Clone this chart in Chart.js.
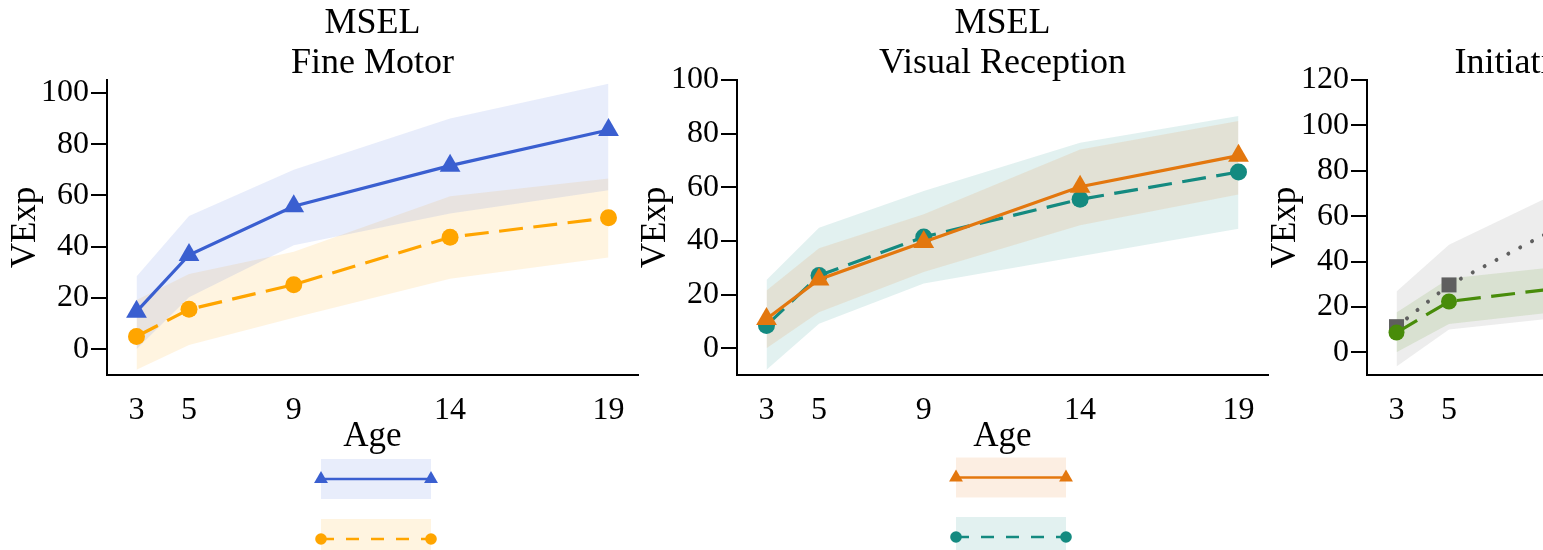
<!DOCTYPE html>
<html><head><meta charset="utf-8">
<script src="https://cdn.jsdelivr.net/npm/chart.js@4.4.1/dist/chart.umd.min.js"></script>
<style>
html,body{margin:0;padding:0;background:#fff;width:1543px;height:550px;overflow:hidden;}
#wrap{position:relative;width:1543px;height:550px;overflow:hidden;background:#fff;}
.panel{position:absolute;top:0;width:660px;height:550px;}
</style></head><body>
<div id="wrap">
<div class="panel" style="left:0px"><canvas id="c1" width="660" height="550"></canvas></div>
<div class="panel" style="left:630px"><canvas id="c2" width="660" height="550"></canvas></div>
<div class="panel" style="left:1260px"><canvas id="c3" width="660" height="550"></canvas></div>
</div>
<script>
// ---- shared x axis (mean age at each visit, labelled by nominal age) ----
const ages = [3, 4.78, 8.33, 13.63, 19];
const ageLabels = ['3', '5', '9', '14', '19'];

// ---- Panel 1: MSEL Fine Motor ----
const fmTitle = ['MSEL', 'Fine Motor'];
const fmYTicks = [0, 20, 40, 60, 80, 100];
const fmBlueMean  = [14.7, 36.8, 55.8, 71.6, 85.5];
const fmBlueUpper = [28.4, 52.0, 70.0, 90.0, 103.5];
const fmBlueLower = [0.0, 20.3, 40.6, 53.0, 62.0];
const fmOrangeMean  = [5.0, 15.6, 25.2, 43.7, 51.3];
const fmOrangeUpper = [19.2, 29.4, 38.0, 59.7, 66.6];
const fmOrangeLower = [-8.0, 1.7, 12.3, 27.5, 35.8];

// ---- Panel 2: MSEL Visual Reception ----
const vrTitle = ['MSEL', 'Visual Reception'];
const vrYTicks = [0, 20, 40, 60, 80, 100];
const vrOrangeMean  = [10.9, 25.6, 39.6, 60.2, 71.8];
const vrOrangeUpper = [21.5, 37.3, 49.9, 74.1, 84.7];
const vrOrangeLower = [0.0, 13.4, 28.4, 45.8, 57.3];
const vrTealMean  = [8.5, 27.1, 41.5, 55.5, 65.7];
const vrTealUpper = [25.4, 44.9, 58.6, 76.6, 86.6];
const vrTealLower = [-8.0, 9.1, 24.1, 34.3, 44.5];

// ---- Panel 3: Initiating Joint Attention (cut off at right edge) ----
const jaTitle = ['ESCS', 'Initiating Joint Attention'];
const jaYTicks = [0, 20, 40, 60, 80, 100, 120];
const jaGreyMean  = [11.3, 29.7, 54.0, null, null];
const jaGreyUpper = [26.8, 47.4, 69.5, null, null];
const jaGreyLower = [-6.3, 10.0, 15.0, null, null];
const jaGreenMean  = [8.7, 22.4, 28.0, null, null];
const jaGreenUpper = [17.5, 32.5, 37.5, null, null];
const jaGreenLower = [0.0, 12.5, 17.7, null, null];

const SERIF = "'Liberation Serif', 'DejaVu Serif', serif";

function pts(vals) { return vals.map((v, i) => ({x: ages[i], y: v})); }
function lineDs(vals, color, style, radius, dash, width, cap) {
  return {data: pts(vals), borderColor: color, backgroundColor: color,
    pointBackgroundColor: color, pointBorderColor: color, pointBorderWidth: 0,
    pointStyle: style, pointRadius: radius, borderWidth: width || 3.2,
    borderDash: dash || [], borderCapStyle: cap || 'butt', fill: false, tension: 0, spanGaps: false};
}
function bandDs(upper, lower, fillColor) {
  return [
    {data: pts(upper), borderWidth: 0, borderColor: 'rgba(0,0,0,0)', pointRadius: 0, fill: '+1', backgroundColor: fillColor, tension: 0},
    {data: pts(lower), borderWidth: 0, borderColor: 'rgba(0,0,0,0)', pointRadius: 0, fill: false, backgroundColor: fillColor, tension: 0}
  ];
}

const bandLegend = {
  id: 'bandLegend',
  afterDraw(chart, args, opts) {
    if (!opts || !opts.items) return;
    const ctx = chart.ctx;
    opts.items.forEach((it, i) => {
      const line = chart.data.datasets[it.line];
      const band = chart.data.datasets[it.band];
      const top = opts.top + i * opts.step;
      const cy = top + opts.height / 2;
      ctx.save();
      ctx.fillStyle = band.backgroundColor;
      ctx.fillRect(opts.left, top, opts.width, opts.height);
      ctx.strokeStyle = line.borderColor;
      ctx.lineWidth = 2.6;
      ctx.lineCap = line.borderCapStyle;
      ctx.setLineDash(it.dash || []);
      ctx.beginPath(); ctx.moveTo(opts.left, cy); ctx.lineTo(opts.left + opts.width, cy); ctx.stroke();
      ctx.setLineDash([]);
      ctx.fillStyle = line.pointBackgroundColor;
      [opts.left, opts.left + opts.width].forEach(x => {
        Chart.helpers.drawPoint(ctx, {pointStyle: line.pointStyle, radius: it.radius, borderWidth: 0, rotation: 0}, x, cy);
      });
      ctx.restore();
    });
  }
};

function makeChart(id, cfg) {
  return new Chart(document.getElementById(id), {
    type: 'line',
    data: {datasets: cfg.datasets},
    options: {
      responsive: false, animation: false, events: [],
      layout: {padding: {left: 0, right: 22, top: 0, bottom: 90}},
      plugins: {
        legend: {display: false}, tooltip: {enabled: false},
        title: {display: true, text: cfg.title, fullSize: false, color: '#000',
          font: {family: SERIF, size: 36, lineHeight: '40px', weight: 'normal'}, padding: {top: 4, bottom: -4}},
        bandLegend: cfg.legend
      },
      scales: {
        x: {type: 'linear', min: 2, max: 20,
          afterBuildTicks: s => { s.ticks = ages.map(v => ({value: v})); },
          afterFit: s => { s.height = 85; },
          grid: {display: false},
          border: {display: true, color: '#000', width: 2},
          ticks: {color: '#000', font: {family: SERIF, size: 32}, padding: 8, maxRotation: 0, autoSkip: false,
            callback: (v, i) => ageLabels[i]},
          title: {display: true, text: 'Age', color: '#000', font: {family: SERIF, size: 35}, padding: {top: 0, bottom: 2.5}}},
        y: {type: 'linear', min: -10, max: cfg.yMax,
          afterBuildTicks: s => { s.ticks = cfg.yTicks.map(v => ({value: v})); },
          afterFit: s => { s.width = 107; },
          grid: {display: true, drawOnChartArea: false, drawTicks: true, tickLength: 16, color: '#000', lineWidth: 2},
          border: {display: true, color: '#000', width: 2},
          ticks: {color: '#000', font: {family: SERIF, size: 32}, padding: 2, autoSkip: false},
          title: {display: true, text: 'VExp', color: '#000', font: {family: SERIF, size: 35}, padding: {top: 5, bottom: 0}}}
      }
    },
    plugins: [bandLegend]
  });
}

const BLUE = 'rgb(58,95,208)', ORANGE = 'rgb(255,165,0)';
const DORANGE = 'rgb(227,119,14)', TEAL = 'rgb(20,138,128)';
const GREY = 'rgb(95,95,95)', GREEN = 'rgb(72,140,10)';
const DASH = [24, 10.5];

makeChart('c1', {
  title: fmTitle, yMax: 105, yTicks: fmYTicks,
  datasets: [
    lineDs(fmBlueMean, BLUE, 'triangle', 12),
    lineDs(fmOrangeMean, ORANGE, 'circle', 8.5, DASH),
    ...bandDs(fmBlueUpper, fmBlueLower, 'rgba(65,105,225,0.12)'),
    ...bandDs(fmOrangeUpper, fmOrangeLower, 'rgba(255,165,0,0.12)')
  ],
  legend: {left: 321, top: 459, width: 110, height: 40, step: 60,
    items: [{line: 0, band: 2, radius: 8}, {line: 1, band: 4, radius: 5.8, dash: [13, 12]}]}
});

makeChart('c2', {
  title: vrTitle, yMax: 100, yTicks: vrYTicks,
  datasets: [
    lineDs(vrOrangeMean, DORANGE, 'triangle', 12),
    lineDs(vrTealMean, TEAL, 'circle', 8.5, DASH),
    ...bandDs(vrOrangeUpper, vrOrangeLower, 'rgba(227,119,14,0.12)'),
    ...bandDs(vrTealUpper, vrTealLower, 'rgba(20,138,128,0.12)')
  ],
  legend: {left: 326, top: 457.5, width: 110, height: 40, step: 59.5,
    items: [{line: 0, band: 2, radius: 8}, {line: 1, band: 4, radius: 5.8, dash: [13, 12]}]}
});

makeChart('c3', {
  title: jaTitle, yMax: 120, yTicks: jaYTicks,
  datasets: [
    lineDs(jaGreenMean, GREEN, 'circle', 8, DASH),
    lineDs(jaGreyMean, GREY, 'rect', 10.6, [0.01, 13.4], 4, 'round'),
    ...bandDs(jaGreenUpper, jaGreenLower, 'rgba(72,140,10,0.12)'),
    ...bandDs(jaGreyUpper, jaGreyLower, 'rgba(105,105,105,0.12)')
  ],
  legend: {left: 326, top: 457.5, width: 110, height: 40, step: 59.5,
    items: [{line: 0, band: 2, radius: 5.8, dash: [13, 12]}, {line: 1, band: 4, radius: 8, dash: [0.01, 13.4]}]}
});
</script>
</body></html>
